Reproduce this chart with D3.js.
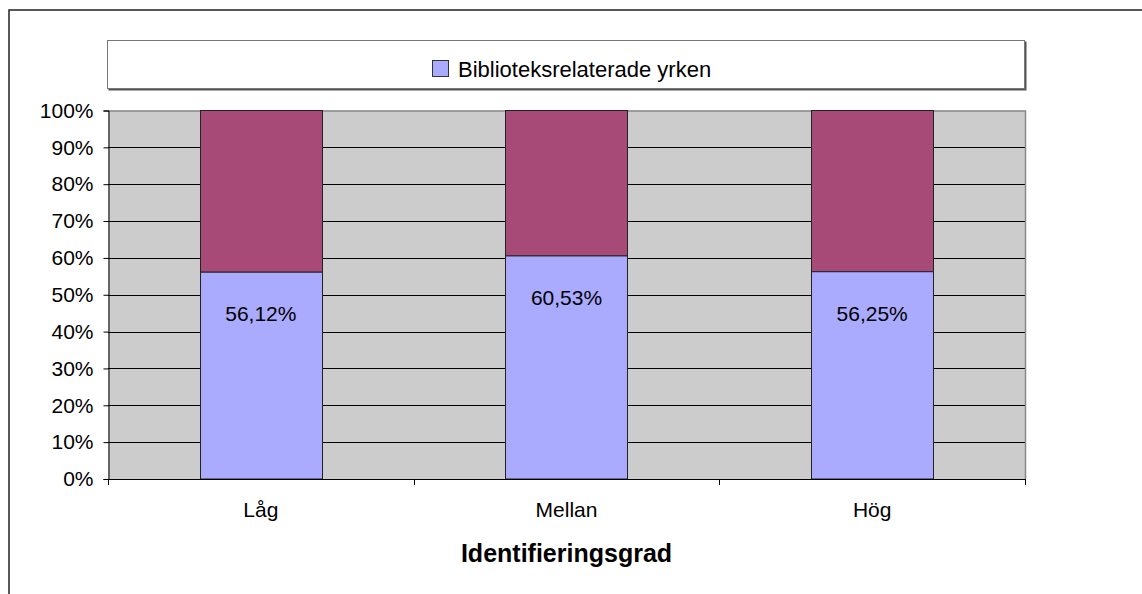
<!DOCTYPE html>
<html>
<head>
<meta charset="utf-8">
<script src="https://cdn.jsdelivr.net/npm/d3@7"></script>
<style>
  body { margin: 0; background: #fff; }
  text { font-family: "Liberation Sans", Arial, sans-serif; fill: #000; }
</style>
</head>
<body>
<script>
// data
var categories = ["Låg", "Mellan", "Hög"];
var bibliotek = [56.12, 60.53, 56.25];         // lower segment, %
var ovriga = bibliotek.map(function(v) { return 100 - v; }); // upper segment fills to 100%
var yTicks = [0, 10, 20, 30, 40, 50, 60, 70, 80, 90, 100];
var legendLabel = "Biblioteksrelaterade yrken";
var xTitle = "Identifieringsgrad";

var width = 1142, height = 594;
var svg = d3.select("body").append("svg")
    .attr("width", width)
    .attr("height", height);

// outer chart border (runs off the right and bottom edge)
svg.append("rect")
    .attr("x", 9).attr("y", 10)
    .attr("width", 1160).attr("height", 620)
    .attr("fill", "#fff")
    .attr("stroke", "#222").attr("stroke-width", 1.5);

var plot = {left: 108, right: 1025, top: 110.5, bottom: 479};

var x = d3.scaleBand()
    .domain(categories)
    .range([plot.left, plot.right])
    .paddingInner(0.6)
    .paddingOuter(0.3);

var y = d3.scaleLinear()
    .domain([0, 100])
    .range([plot.bottom, plot.top]);

// legend box
svg.append("rect")
    .attr("x", 108.5).attr("y", 41.5)
    .attr("width", 918).attr("height", 49)
    .attr("fill", "#555");
svg.append("rect")
    .attr("x", 107.5).attr("y", 40.5)
    .attr("width", 917).attr("height", 48)
    .attr("fill", "#fff")
    .attr("stroke", "#777").attr("stroke-width", 1);

var legend = svg.append("g").attr("transform", "translate(432,60)");
legend.append("rect")
    .attr("x", 0.5).attr("y", 0.5)
    .attr("width", 16).attr("height", 16)
    .attr("fill", "#AAAAFF")
    .attr("stroke", "#333");
legend.append("text")
    .attr("x", 26).attr("y", 16.5)
    .style("font-size", "22px")
    .text(legendLabel);

// plot area background
svg.append("rect")
    .attr("x", plot.left).attr("y", plot.top)
    .attr("width", plot.right - plot.left)
    .attr("height", plot.bottom - plot.top)
    .attr("fill", "#CCCCCC");

// gridlines
svg.append("g")
    .selectAll("line")
    .data(yTicks.filter(function(d) { return d > 0 && d < 100; }))
    .join("line")
    .attr("x1", plot.left).attr("x2", plot.right)
    .attr("y1", function(d) { return Math.round(y(d)) + 0.5; })
    .attr("y2", function(d) { return Math.round(y(d)) + 0.5; })
    .attr("stroke", "#000");

// plot border (top and right in gray)
svg.append("path")
    .attr("d", "M" + plot.left + "," + (plot.top + 0.5) + "H" + (plot.right + 0.5) + "V" + plot.bottom)
    .attr("fill", "none")
    .attr("stroke", "#888").attr("stroke-width", 1.5);

// stacked bars
var stack = categories.map(function(c, i) {
    return {cat: c, low: bibliotek[i], high: ovriga[i]};
});

var bars = svg.append("g");
bars.selectAll("rect.high")
    .data(stack)
    .join("rect")
    .attr("class", "high")
    .attr("x", function(d) { return Math.round(x(d.cat)) + 0.5; })
    .attr("y", function(d) { return y(d.low + d.high); })
    .attr("width", Math.round(x.bandwidth()))
    .attr("height", function(d) { return y(d.low) - y(d.low + d.high); })
    .attr("fill", "#A84A77")
    .attr("stroke", "#222");
bars.selectAll("rect.low")
    .data(stack)
    .join("rect")
    .attr("class", "low")
    .attr("x", function(d) { return Math.round(x(d.cat)) + 0.5; })
    .attr("y", function(d) { return y(d.low); })
    .attr("width", Math.round(x.bandwidth()))
    .attr("height", function(d) { return y(0) - y(d.low); })
    .attr("fill", "#AAAAFF")
    .attr("stroke", "#222");

// data labels
bars.selectAll("text")
    .data(stack)
    .join("text")
    .attr("x", function(d) { return x(d.cat) + x.bandwidth() / 2; })
    .attr("y", function(d) { return y(d.low) + 49; })
    .attr("text-anchor", "middle")
    .style("font-size", "21px")
    .text(function(d) { return d.low.toFixed(2).replace(".", ",") + "%"; });

// y axis
var yAxis = svg.append("g")
    .attr("transform", "translate(" + (plot.left + 0.5) + ",0)")
    .call(d3.axisLeft(y)
        .tickValues(yTicks)
        .tickSize(5)
        .tickPadding(10)
        .tickFormat(function(d) { return d + "%"; }));
yAxis.select(".domain").attr("stroke", "#000");
yAxis.selectAll("text").style("font-size", "21px").attr("fill", "#000");

// x axis
var xTickPos = [0, 1, 2, 3].map(function(i) {
    return plot.left + i * (plot.right - plot.left) / 3;
});
var xAxis = svg.append("g");
xAxis.append("line")
    .attr("x1", plot.left).attr("x2", plot.right + 1)
    .attr("y1", plot.bottom + 0.5).attr("y2", plot.bottom + 0.5)
    .attr("stroke", "#000");
xAxis.selectAll("line.tick")
    .data(xTickPos)
    .join("line")
    .attr("class", "tick")
    .attr("x1", function(d) { return Math.round(d) + 0.5; })
    .attr("x2", function(d) { return Math.round(d) + 0.5; })
    .attr("y1", plot.bottom).attr("y2", plot.bottom + 6)
    .attr("stroke", "#000");
xAxis.selectAll("text")
    .data(categories)
    .join("text")
    .attr("x", function(d) { return x(d) + x.bandwidth() / 2; })
    .attr("y", 517)
    .attr("text-anchor", "middle")
    .style("font-size", "21px")
    .text(function(d) { return d; });

svg.append("text")
    .attr("x", (plot.left + plot.right) / 2)
    .attr("y", 562)
    .attr("text-anchor", "middle")
    .style("font-size", "25px")
    .style("font-weight", "bold")
    .text(xTitle);
</script>
</body>
</html>
